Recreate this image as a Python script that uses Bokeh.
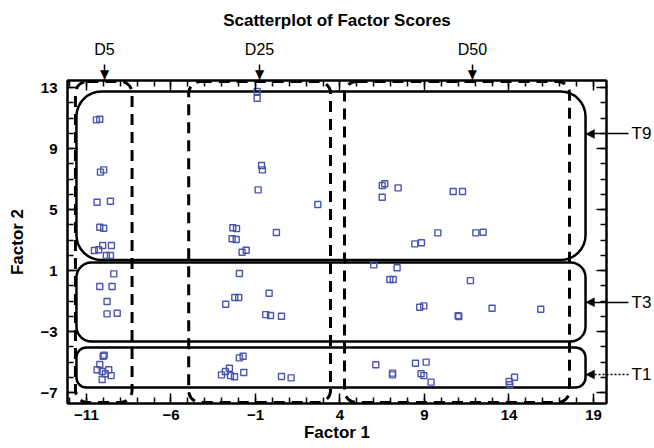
from bokeh.plotting import figure
from bokeh.models import LinearAxis, FixedTicker, Range1d, PolyAnnotation
from bokeh.embed import file_html
from bokeh.resources import INLINE

# ---- data (Factor 1, Factor 2 scores) ----
factor1 = [
    -10.41, -10.21, -10.17, -9.98, -10.37, -9.58, -10.21, -9.98, -10.53, -10.27,
    -10.04, -9.52, -9.82, -9.58,
    -9.38, -10.21, -9.48, -9.78, -9.78, -9.18,
    -10.01, -9.95, -10.21, -10.37, -10.07, -9.68, -9.88, -9.54, -10.07,
    -0.9, -0.9, -0.64, -0.59, -0.84, 2.69, -2.34, -2.12, -2.38, -2.14, 0.24, -1.79, -1.55,
    -1.95, -2.22, -1.99, -2.76, -0.19, -0.39, -0.11, 0.54,
    -1.95, -1.73, -2.54, -2.78, -3.01, -2.48, -2.24, -1.69, 0.54, 1.11,
    6.5, 6.65, 7.44, 6.5, 10.7, 11.25, 9.79, 8.43, 8.82, 12.04, 12.47,
    6.0, 7.38, 6.95, 7.15, 11.72, 8.72, 8.96, 10.99, 11.03, 13.0, 15.88,
    6.12, 7.11, 7.11, 8.47, 9.1, 8.8, 8.96, 9.39, 14.01, 14.05, 14.33,
]
factor2 = [
    10.88, 10.92, 7.45, 7.6, 5.48, 5.54, 3.84, 3.77, 2.31, 2.36,
    2.64, 2.64, 1.98, 1.98,
    0.78, -0.05, -0.05, -1.03, -1.84, -1.8,
    -4.62, -4.55, -5.16, -5.51, -5.62, -5.51, -5.77, -5.89, -6.15,
    12.74, 12.3, 7.89, 7.6, 6.29, 5.33, 3.8, 3.75, 3.08, 3.03, 3.49, 2.2, 2.33,
    0.8, -0.77, -0.77, -1.21, -0.49, -1.89, -1.95, -2.0,
    -4.73, -4.62, -5.41, -5.62, -5.84, -5.89, -5.97, -5.69, -5.95, -6.04,
    6.57, 6.69, 6.42, 5.8, 6.18, 6.18, 3.47, 2.75, 2.82, 3.47, 3.51,
    1.37, 1.18, 0.41, 0.41, 0.34, -1.41, -1.32, -1.97, -2.02, -1.47, -1.54,
    -5.18, -5.73, -5.84, -5.08, -5.01, -5.77, -5.89, -6.32, -6.28, -6.49, -6.0,
]

x_major = [-11, -6, -1, 4, 9, 14, 19]
y_major = [-7, -3, 1, 5, 9, 13]
x_minor = list(range(-12, 20))
y_minor = list(range(-7, 14))

# horizontal (solid) groups
t_names = ["T9", "T3", "T1"]
t_left = [-11.59, -11.59, -11.59]
t_right = [18.53, 18.53, 18.53]
t_top = [12.74, 1.52, -4.05]
t_bottom = [1.69, -3.66, -6.67]
t_label_y = [9.96, -1.08, -5.82]
t_arrow_tip = 18.53

# vertical (dashed) groups
d_names = ["D5", "D25", "D50"]
d_left = [-11.65, -4.95, 4.27]
d_right = [-8.3, 3.44, 17.58]
d_top = [13.4, 13.4, 13.4]
d_bottom = [-7.65, -7.65, -7.65]
d_label_x = [-9.93, -0.76, 11.84]

TITLE = "Scatterplot of Factor Scores"

X_RANGE = (-12.12, 19.77)
Y_RANGE = (-7.72, 13.46)
FRAME_W, FRAME_H = 539, 323

FONT = "Liberation Sans"

p = figure(width=654, height=448, x_range=Range1d(*X_RANGE), y_range=Range1d(*Y_RANGE),
           output_backend="svg", toolbar_location=None,
           min_border_left=67, min_border_right=48, min_border_top=80, min_border_bottom=45)
p.xgrid.grid_line_color = None
p.ygrid.grid_line_color = None
p.outline_line_color = "black"
p.outline_line_width = 2
p.background_fill_color = "white"
p.border_fill_color = "white"

xt = FixedTicker(ticks=x_major, minor_ticks=x_minor)
yt = FixedTicker(ticks=y_major, minor_ticks=y_minor)


def hide_labels(ax):
    ax.major_label_text_font_size = "0px"
    ax.major_label_text_color = None
    ax.major_label_standoff = 0


def bare(ax):
    ax.axis_line_color = None
    ax.major_tick_line_color = None
    ax.minor_tick_line_color = None
    ax.major_tick_in = 0
    ax.major_tick_out = 0
    ax.minor_tick_in = 0
    ax.minor_tick_out = 0


def style_axis(ax, labels=True):
    ax.axis_line_width = 2
    ax.axis_line_color = "black"
    ax.major_tick_in = 10
    ax.major_tick_out = 0
    ax.minor_tick_in = 6
    ax.minor_tick_out = 0
    ax.major_tick_line_width = 1.5
    ax.minor_tick_line_width = 1.5
    ax.major_tick_line_color = "black"
    ax.minor_tick_line_color = "black"
    if labels:
        ax.major_label_text_font = FONT
        ax.major_label_text_font_style = "bold"
        ax.major_label_text_font_size = "15px"
        ax.major_label_text_color = "black"
        ax.axis_label_text_font = FONT
        ax.axis_label_text_font_style = "bold"
        ax.axis_label_text_font_size = "17px"
        ax.axis_label_text_color = "black"
    else:
        hide_labels(ax)


xa = p.xaxis[0]
xa.ticker = xt
xa.axis_label = "Factor 1"
style_axis(xa)
xa.major_label_standoff = 6
xa.axis_label_standoff = 0

ya = p.yaxis[0]
ya.ticker = yt
ya.axis_label = "Factor 2"
style_axis(ya)
ya.major_label_standoff = 10
ya.axis_label_standoff = 10

# frame ticks on top and right
top_ax = LinearAxis(ticker=xt)
style_axis(top_ax, labels=False)
p.add_layout(top_ax, "above")
right_ax = LinearAxis(ticker=yt)
style_axis(right_ax, labels=False)
p.add_layout(right_ax, "right")

# ---- D arrows: arrow heads (tick labels) + shafts (ticks) ----
head_ax = LinearAxis(ticker=FixedTicker(ticks=d_label_x, minor_ticks=[]),
                     major_label_overrides={x: "\u25BC" for x in d_label_x})
bare(head_ax)
head_ax.major_tick_line_color = "black"
head_ax.major_tick_line_width = 1.5
head_ax.major_tick_out = 16
head_ax.major_label_standoff = -16
head_ax.major_label_text_font = "DejaVu Sans"
head_ax.major_label_text_font_size = "12px"
head_ax.major_label_text_color = "black"
p.add_layout(head_ax, "above")

# D names + title
d_ax = LinearAxis(ticker=FixedTicker(ticks=d_label_x, minor_ticks=[]),
                  major_label_overrides={x: n for x, n in zip(d_label_x, d_names)},
                  axis_label=TITLE)
bare(d_ax)
d_ax.major_label_standoff = 6
d_ax.major_label_text_font = FONT
d_ax.major_label_text_font_size = "16px"
d_ax.major_label_text_color = "black"
d_ax.axis_label_standoff = 8
d_ax.axis_label_text_font = FONT
d_ax.axis_label_text_font_style = "bold"
d_ax.axis_label_text_font_size = "17px"
d_ax.axis_label_text_color = "black"
p.add_layout(d_ax, "above")

# ---- T arrows: shafts as ticks (T1 dotted as a minor tick), names as labels ----
t_tick_ax = LinearAxis(ticker=FixedTicker(ticks=t_label_y[:2], minor_ticks=t_label_y[2:]))
bare(t_tick_ax)
hide_labels(t_tick_ax)
t_tick_ax.major_tick_line_color = "black"
t_tick_ax.minor_tick_line_color = "black"
t_tick_ax.major_tick_line_width = 1.5
t_tick_ax.minor_tick_line_width = 1.5
t_tick_ax.minor_tick_line_dash = "2 2"
t_tick_ax.major_tick_in = 14
t_tick_ax.major_tick_out = 22
t_tick_ax.minor_tick_in = 14
t_tick_ax.minor_tick_out = 22
p.add_layout(t_tick_ax, "right")

t_axis = LinearAxis(ticker=FixedTicker(ticks=t_label_y, minor_ticks=[]),
                    major_label_overrides={y: n for y, n in zip(t_label_y, t_names)})
bare(t_axis)
t_axis.major_label_standoff = 3
t_axis.major_label_text_font = FONT
t_axis.major_label_text_font_size = "17px"
t_axis.major_label_text_color = "black"
p.add_layout(t_axis, "right")

# dashed vertical group boxes
for i in range(3):
    p.quad(left=d_left[i], right=d_right[i], top=d_top[i], bottom=d_bottom[i],
           fill_color=None, line_color="black", line_width=3, line_dash="11 7",
           border_radius=12)

# solid horizontal group boxes
t_radius = [25, 15, 10]
for i in range(3):
    p.quad(left=t_left[i], right=t_right[i], top=t_top[i], bottom=t_bottom[i],
           fill_color=None, line_color="black", line_width=2.5,
           border_radius=t_radius[i])

p.scatter(factor1, factor2, marker="square", size=6, fill_color=None,
          line_color="#4b55b0", line_width=1.4)

# T arrow heads (inside the frame)
dx = (X_RANGE[1] - X_RANGE[0]) / FRAME_W
dy = (Y_RANGE[1] - Y_RANGE[0]) / FRAME_H
HEAD_L, HEAD_W = 9, 4.5
for yc in t_label_y:
    base = t_arrow_tip + HEAD_L * dx
    p.add_layout(PolyAnnotation(xs=[base, base, t_arrow_tip],
                                ys=[yc - HEAD_W * dy, yc + HEAD_W * dy, yc],
                                fill_color="black", fill_alpha=1, line_color="black",
                                line_width=1))

open("out.html", "w").write(file_html(p, INLINE))
